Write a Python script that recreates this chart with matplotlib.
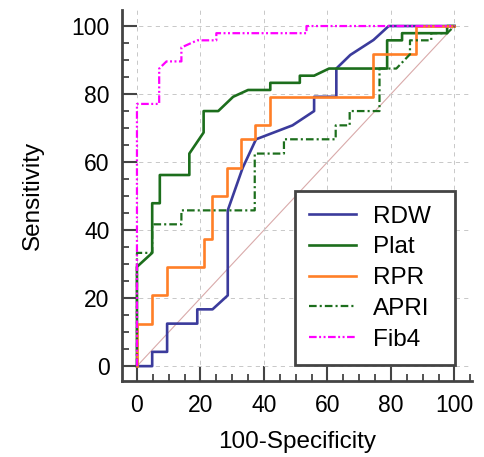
import matplotlib
matplotlib.use("Agg")
import matplotlib.pyplot as plt
from matplotlib.ticker import MultipleLocator

plt.rcParams['font.family'] = ['Liberation Sans', 'DejaVu Sans']
plt.rcParams['lines.scale_dashes'] = False

# ROC curves: x = 100-Specificity, y = Sensitivity
rdw_x = [0, 4.8, 4.8, 9.5, 9.5, 19, 19, 23.8, 28.6, 28.6, 33.3, 37.5, 49, 55.8, 55.8, 62.8, 62.8, 67.2, 74.5, 79.3, 100]
rdw_y = [0, 0, 4.2, 4.2, 12.5, 12.5, 16.7, 16.7, 20.8, 45.8, 58.3, 66.7, 70.8, 75, 79.2, 79.2, 87.5, 91.5, 95.9, 100, 100]

plat_x = [0, 0, 4.8, 4.8, 7.2, 7.2, 16.5, 16.5, 21, 21, 25.6, 30.3, 35, 42, 42, 51.3, 51.3, 55.8, 60.5, 78.8, 78.8, 83.5, 83.5, 97.7, 97.7, 100]
plat_y = [0, 29.2, 33.3, 47.9, 47.9, 56.2, 56.2, 62.5, 68.7, 75, 75, 79.2, 81.2, 81.2, 83.3, 83.3, 85.4, 85.4, 87.5, 87.5, 95.8, 95.8, 97.9, 97.9, 100, 100]

rpr_x = [0, 0, 4.8, 4.8, 9.5, 9.5, 21, 21, 23.5, 23.5, 28.3, 28.3, 32.8, 32.8, 37.3, 37.3, 42, 42, 74.5, 74.5, 88, 88, 100]
rpr_y = [0, 12.5, 12.5, 20.8, 20.8, 29.2, 29.2, 37.5, 37.5, 50, 50, 58.3, 58.3, 66.7, 66.7, 70.8, 70.8, 79.2, 79.2, 91.7, 91.7, 100, 100]

apri_x = [0, 0, 4.8, 4.8, 14, 14, 37.1, 37.1, 46.3, 46.3, 62.6, 62.6, 67, 67, 76.4, 76.4, 81.7, 86, 86, 92.7, 92.7, 97.7, 100]
apri_y = [0, 33.3, 33.3, 41.7, 41.7, 45.8, 45.8, 62.5, 62.5, 66.7, 66.7, 70.8, 70.8, 75, 75, 87.5, 87.5, 91.7, 95.8, 95.8, 97.9, 97.9, 100]

fib4_x = [0, 0, 7, 7, 9.3, 14, 14, 19, 25, 25, 53.4, 53.4, 100]
fib4_y = [0, 77.1, 77.1, 87.5, 89.6, 89.6, 93.7, 95.8, 95.8, 97.9, 97.9, 100, 100]

ticks = [0, 20, 40, 60, 80, 100]

fig = plt.figure(figsize=(4.84, 4.57), dpi=100)
ax = fig.add_axes([0.252, 0.166, 0.723, 0.812])

ax.plot([0, 100], [0, 100], color='#d9aaaa', lw=0.8, zorder=1)
ax.plot(rdw_x, rdw_y, color='#3b3b9c', lw=1.9, label='RDW', zorder=3)
ax.plot(plat_x, plat_y, color='#1c6e1c', lw=1.9, label='Plat', zorder=3)
ax.plot(rpr_x, rpr_y, color='#ff7f27', lw=1.9, label='RPR', zorder=4)
ax.plot(apri_x, apri_y, color='#1c6e1c', lw=1.6, label='APRI',
        linestyle=(0, (5.5, 2.2, 1.5, 2.2)), zorder=4)
ax.plot(fib4_x, fib4_y, color='#ff00ff', lw=1.6, label='Fib4',
        linestyle=(0, (5.5, 1.8, 1.4, 1.8, 1.4, 1.8)), zorder=5)

ax.set_xlim(-4.72, 105.5)
ax.set_ylim(-4.41, 104.7)
ax.set_xticks(ticks)
ax.set_yticks(ticks)
ax.xaxis.set_minor_locator(MultipleLocator(5))
ax.yaxis.set_minor_locator(MultipleLocator(5))
ax.grid(True, which='major', color='#c8c8c8', linestyle=(0, (3, 3)), lw=0.7, zorder=0)

for s in ['top', 'right']:
    ax.spines[s].set_visible(False)
for s in ['left', 'bottom']:
    ax.spines[s].set_color('#444444')
    ax.spines[s].set_linewidth(2)

ax.tick_params(which='major', direction='in', length=10.8, width=1.5, color='#444444',
               labelsize=16.5, pad=9)
ax.tick_params(which='minor', direction='in', length=5, width=1.3, color='#444444')

ax.set_xlabel('100-Specificity', fontsize=17.5, labelpad=10)
ax.set_ylabel('Sensitivity', fontsize=17.5, labelpad=20)

leg = ax.legend(loc='lower left', bbox_to_anchor=(0.494, 0.043, 0.457, 0.466),
                mode='expand', borderaxespad=0, fontsize=17.5, handlelength=1.9,
                handletextpad=0.7, labelspacing=0.36, borderpad=0.6,
                fancybox=False, framealpha=1)
leg.get_frame().set_edgecolor('#444444')
leg.get_frame().set_linewidth(2)

fig.savefig('out.png', dpi=100)
